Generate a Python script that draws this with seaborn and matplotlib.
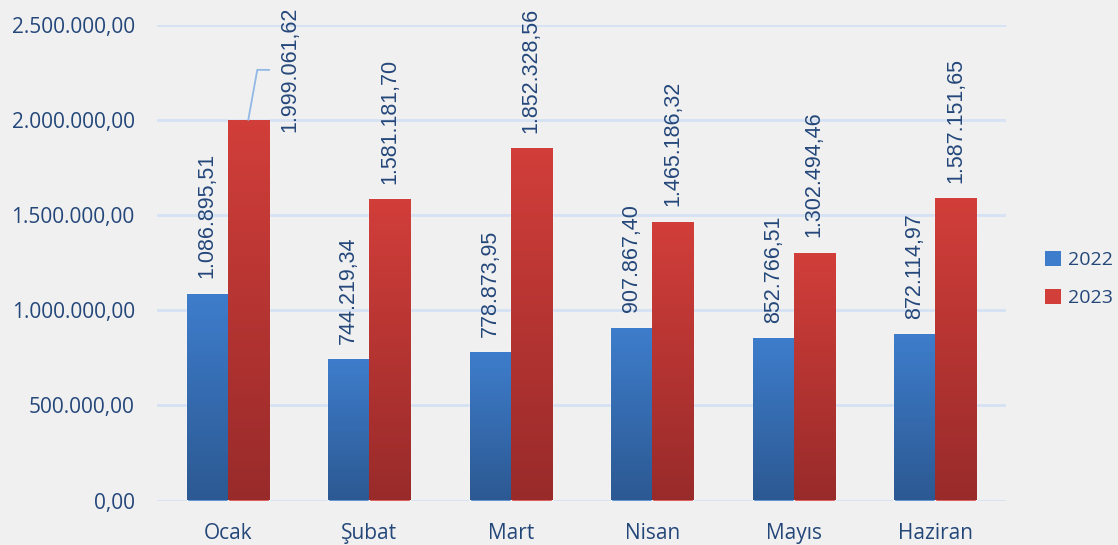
import numpy as np
import pandas as pd
import seaborn as sns
import matplotlib.pyplot as plt
from matplotlib.patches import Patch
from matplotlib.colors import LinearSegmentedColormap

months = ['Ocak', 'Şubat', 'Mart', 'Nisan', 'Mayıs', 'Haziran']
values_2022 = [1086895.51, 744219.34, 778873.95, 907867.40, 852766.51, 872114.97]
values_2023 = [1999061.62, 1581181.70, 1852328.56, 1465186.32, 1302494.46, 1587151.65]
years = ['2022', '2023']
yticks = [0, 500000, 1000000, 1500000, 2000000, 2500000]

text_col = '#24477a'
bg = '#f0f0f0'
# (top colour, bottom colour)
grad = {'2022': ('#3e7dcc', '#2c5992'), '2023': ('#d23e3a', '#982b2a')}

df = pd.DataFrame({
    'Ay': months * 2,
    'Yil': ['2022'] * len(months) + ['2023'] * len(months),
    'Deger': values_2022 + values_2023,
})
vals = {'2022': values_2022, '2023': values_2023}


def tr(v):
    # turkish number format 1.234.567,89
    s = '{:,.2f}'.format(v)
    return s.replace(',', '#').replace('.', ',').replace('#', '.')


sns.set_theme(style='white')
plt.rcParams['font.family'] = ['Open Sans', 'DejaVu Sans']

fig = plt.figure(figsize=(11.18, 5.45), dpi=100, facecolor=bg)
ax = fig.add_axes([157 / 1118, 44.5 / 545, (1006 - 157) / 1118, 476 / 545])
ax.set_facecolor(bg)

sns.barplot(data=df, x='Ay', y='Deger', hue='Yil',
            palette=[grad[y][0] for y in years], width=0.58, gap=0,
            saturation=1, errorbar=None, legend=False, ax=ax)

# vertical gradient on every bar
for cont, yr in zip(ax.containers, years):
    cmap = LinearSegmentedColormap.from_list(yr, [grad[yr][1], grad[yr][0]])
    for bar in cont:
        x0, w, h = bar.get_x(), bar.get_width(), bar.get_height()
        img = ax.imshow(np.linspace(0, 1, 256).reshape(-1, 1), cmap=cmap,
                        origin='lower', extent=[x0, x0 + w, 0, h],
                        aspect='auto', zorder=bar.get_zorder() + 0.1)
        img.set_clip_path(bar)

ax.set_xlim(-0.5, len(months) - 0.5)
ax.set_ylim(0, 2500000)
ax.set_yticks(yticks)
ax.set_yticklabels([tr(v) for v in yticks])
ax.yaxis.grid(True, color='#d4e2f3', lw=2)
ax.set_axisbelow(True)
for s in ax.spines.values():
    s.set_visible(False)
ax.tick_params(length=0, labelsize=15, labelcolor=text_col)
ax.tick_params(axis='y', pad=16)
ax.tick_params(axis='x', pad=16)
ax.set_xlabel('')
ax.set_ylabel('')

# value labels
for cont, yr in zip(ax.containers, years):
    for i, (bar, v) in enumerate(zip(cont, vals[yr])):
        cx = bar.get_x() + bar.get_width() / 2
        top = bar.get_height()
        if yr == '2023' and i == 0:
            # label moved aside with a leader line
            ax.annotate(tr(v), (cx, top), xytext=(30, -8.6), textcoords='offset points',
                        rotation=90, ha='center', va='bottom', fontsize=15.5,
                        color=text_col, family='Liberation Sans', annotation_clip=False)
            px, py = ax.transData.transform((cx, top))
            pts = np.array([[px, py], [px + 9, py + 50], [px + 21, py + 50]])
            lx, ly = ax.transData.inverted().transform(pts).T
            ax.plot(lx, ly, color='#92b8e6', lw=1.3, clip_on=False)
        else:
            ax.annotate(tr(v), (cx, top), xytext=(0, 11), textcoords='offset points',
                        rotation=90, ha='center', va='bottom', fontsize=15.5,
                        color=text_col, family='Liberation Sans')

handles = [Patch(facecolor=grad[y][0], edgecolor='none') for y in years]
fig.legend(handles, years, loc='center left', bbox_to_anchor=(1045 / 1118, 0.488),
           frameon=False, fontsize=14, labelcolor=text_col, handlelength=0.8,
           handleheight=0.8, handletextpad=0.4, labelspacing=1.0,
           borderaxespad=0, borderpad=0)

fig.savefig('out.png', dpi=100, facecolor=bg)
